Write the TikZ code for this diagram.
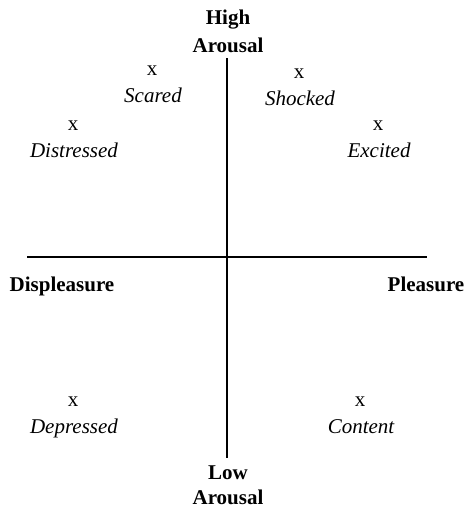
\documentclass[tikz,border=0pt]{standalone}
\usepackage{fontspec}
\setmainfont{Liberation Serif}
\usepackage{tikz}

\tikzset{
    axislabel/.style={font=\fontsize{21}{27}\selectfont\bfseries, anchor=base, inner sep=0pt},
    xpoint/.style={font=\fontsize{21}{27}\selectfont, anchor=base, inner sep=0pt},
    emotion/.style={font=\fontsize{21}{27}\selectfont\itshape, anchor=base, inner sep=0pt},
    axis/.style={line width=1.6pt}
}

\begin{document}
\begin{tikzpicture}[x=1pt, y=-1pt]
            \useasboundingbox (0,0) rectangle (467,507);

            \node[axislabel] (high1) at (228, 24) {High};
            \node[axislabel] (high2) at (228, 52) {Arousal};
            \node[axislabel] (low1) at (228, 479) {Low};
            \node[axislabel] (low2) at (228, 504) {Arousal};
            \node[axislabel] (displeasure) at (62, 291) {Displeasure};
            \node[axislabel] (pleasure) at (426, 291) {Pleasure};

            \coordinate (top) at (227, 58);
            \coordinate (bottom) at (227, 458);
            \coordinate (left) at (27, 257);
            \coordinate (right) at (427, 257);
            \draw[axis] (top) -- (bottom);
            \draw[axis] (left) -- (right);

            \foreach \px/\py/\word in {152/75/Scared, 299/78/Shocked,
                                       73/130/Distressed, 378/130/Excited,
                                       73/406/Depressed, 360/406/Content} {
                \node[xpoint] (x\word) at (\px, \py) {x};
                \node[emotion] (\word) at (\px+1, \py+27) {\word};
            }
        \end{tikzpicture}
\end{document}
